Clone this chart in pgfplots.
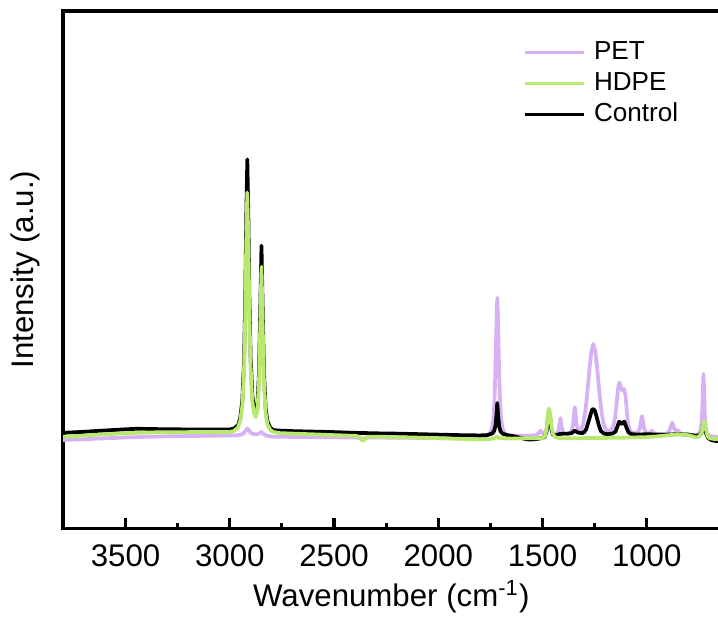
\documentclass[border=0pt]{standalone}
\usepackage{fontspec}
\setmainfont{Liberation Sans}
\usepackage{pgfplots}
\pgfplotsset{compat=1.18}
\usetikzlibrary{calc}

\definecolor{petc}{RGB}{214,178,245}
\definecolor{hdpec}{RGB}{185,232,110}

% spectra (wavenumber, intensity in a.u.)
\pgfplotstableread{
wn val
3800 88.0
3750 88.6
3700 88.8
3650 89.4
3600 89.8
3550 90.2
3500 90.6
3450 91.0
3400 91.3
3350 91.5
3300 91.8
3250 91.9
3200 92.1
3150 92.2
3100 92.4
3050 92.5
3000 92.6
2970 92.8
2950 93.2
2935 94.5
2925 97.0
2916 99.5
2908 97.5
2898 95.0
2880 93.8
2866 94.0
2856 95.0
2848 96.2
2840 94.5
2825 92.5
2800 91.5
2750 91.3
2700 91.2
2600 91.0
2500 90.8
2400 90.6
2375 90.0
2362 89.0
2350 90.2
2330 90.6
2200 90.4
2100 90.2
2000 90.0
1900 89.7
1800 89.5
1780 90.5
1767 92.0
1752 95.0
1742 100
1735 110
1730 128
1726 158
1723 185
1720 214
1717 230
1714 214
1711 185
1708 158
1704 128
1699 110
1692 100
1682 95.0
1667 93.0
1640 92.5
1600 92.5
1560 92.3
1530 93.0
1518 95.0
1510 97.5
1502 95.5
1492 94.0
1480 99.0
1472 110
1466 107
1458 98.0
1448 94.5
1436 94.0
1425 96.5
1419 103
1414 110
1409 103
1403 96.5
1392 94.0
1375 94.0
1362 96.0
1354 103
1349 114
1345 121
1341 114
1336 103
1328 98.5
1316 98.0
1306 103.4
1296 114.6
1286 133
1276 156
1266 176
1256 184
1246 176
1236 156
1226 133
1216 114.6
1206 103.4
1196 98.5
1185 97.0
1175 97.5
1162 101
1152 110
1144 126
1137 140
1131 145.5
1124 141
1117 137.5
1109 139
1102 133
1096 118
1090 105
1082 98.0
1070 95.5
1055 95.0
1042 96.0
1033 100
1028 107
1023 112
1018 107
1013 100
1004 95.5
990 95.0
980 96.0
976 97.5
971 96.0
962 94.5
930 94.0
905 94.5
892 97.0
884 102
878 105.5
872 102
866 98.5
858 97.5
851 98.0
845 96.0
835 94.5
800 93.5
775 93.0
760 93.5
748 95.0
740 100
735 112
731 135
728 154
725 140
722 115
718 101
712 95.0
700 92.5
680 91.5
650 91.0
}\pet

\pgfplotstableread{
wn val
3800 91.3
3750 92.0
3700 92.5
3650 93.3
3600 93.8
3550 94.4
3500 94.8
3450 95.3
3400 95.6
3350 95.8
3300 95.9
3200 96.0
3100 96.1
3000 96.2
2980 97.0
2960 101
2950 107
2940 122
2932 155
2926 210
2921 284
2916 335
2911 286
2906 214
2900 160
2892 127
2884 115
2876 111
2868 116
2860 145
2854 200
2848 261
2842 200
2836 145
2828 115
2820 104
2805 98.0
2790 96.0
2760 95.0
2700 94.5
2600 93.8
2500 93.0
2400 92.3
2380 91.5
2368 88.5
2360 87.3
2350 89.5
2335 91.5
2300 91.5
2200 91.0
2100 90.5
2000 90.0
1900 89.3
1800 88.7
1750 89.0
1725 90.5
1717 91.5
1708 90.0
1650 89.5
1600 89.8
1550 89.8
1500 90.0
1488 92.0
1480 100
1475 112
1470 119.5
1464 115
1458 103
1450 94.0
1440 91.0
1420 90.0
1400 89.8
1300 90.0
1200 90.2
1100 90.5
1000 91.0
950 91.8
900 92.8
850 93.8
820 93.5
790 92.5
770 91.0
755 91.0
742 93.0
735 97.0
730 102
726 106
723 107
719 104
714 97.0
708 92.0
700 90.0
680 89.2
650 88.8
}\hdpe

\pgfplotstableread{
wn val
3800 95.0
3780 95.5
3750 95.8
3700 96.3
3650 97.0
3600 97.6
3550 98.2
3500 98.8
3450 99.3
3400 99.2
3350 99.0
3300 98.8
3250 98.8
3200 98.6
3100 98.5
3000 98.6
2980 99.5
2960 103
2950 110
2940 127
2932 164
2926 226
2921 309
2916 368
2911 312
2906 230
2900 170
2892 133
2884 119
2876 115
2868 120
2860 154
2854 216
2848 282
2842 216
2836 155
2828 120
2820 107
2805 100
2790 98.0
2760 97.5
2700 97.0
2600 96.5
2500 96.0
2400 95.3
2300 94.8
2200 94.5
2100 94.0
2000 93.5
1900 93.0
1800 92.7
1767 93.0
1742 94.5
1732 97.0
1726 102
1721 113
1717 125
1713 113
1708 102
1702 97.0
1692 94.5
1670 93.0
1640 92.0
1600 90.0
1580 89.0
1560 88.5
1530 89.0
1505 90.0
1490 91.0
1480 97.0
1474 110
1470 116
1464 112
1458 100
1450 93.0
1440 92.5
1420 94.0
1400 94.5
1380 94.5
1360 95.0
1345 97.5
1330 95.5
1310 95.0
1300 96.0
1290 99.0
1280 106
1270 113
1262 118.5
1255 119
1248 117
1240 111
1230 103
1220 97.0
1205 94.5
1185 94.0
1165 94.5
1150 96.5
1140 102
1132 106.5
1120 104
1108 106.5
1098 101
1088 96.0
1075 94.0
1040 93.5
1000 94.0
950 93.5
900 93.5
850 94.0
800 93.5
770 92.5
750 92.5
738 95.0
732 99.0
728 103
724 104
720 100
714 94.0
705 90.0
690 88.0
670 87.2
650 87.0
}\control

\begin{document}
\begin{tikzpicture}
\begin{axis}[
    scale only axis,
    width=229.25pt, height=180.6pt,
    x dir=reverse,
    xmin=650, xmax=3800,
    ymin=0, ymax=516,
    xtick={1000,1500,...,3500},
    minor x tick num=1,
    ytick=\empty,
    xtick pos=lower,
    tick align=inside,
    major tick length=3.6pt,
    minor tick length=1.8pt,
    axis line style={line width=1.2pt},
    every tick/.style={black, line width=1.1pt},
    /pgf/number format/1000 sep={},
    /pgf/number format/assume math mode=true,
    tick label style={font=\fontsize{10.9}{13}\selectfont},
    xticklabel style={inner sep=0pt, anchor=north, yshift=-5.6pt},
    label style={font=\fontsize{10.9}{13}\selectfont},
    xlabel={Wavenumber (cm\textsuperscript{-1})},
    ylabel={Intensity (a.u.)},
    xlabel style={at={(axis description cs:0.5,0)}, anchor=north, inner sep=0pt, yshift=-18pt},
    ylabel style={at={(axis description cs:-0.045,0.5)}, anchor=base, inner sep=0pt},
    legend cell align=left,
    legend image code/.code={\draw[#1, line width=1.2pt] (0pt,0pt) -- (20.7pt,0pt);},
    legend style={draw=none, fill=none,
        at={(axis description cs:0.687,0.957)}, anchor=north west,
        font=\fontsize{9.1}{11}\selectfont,
        nodes={inner sep=0pt, text height=7pt, text depth=2pt},
        row sep=1.8pt,
        /tikz/every odd column/.append style={column sep=2.8pt}},
    every axis plot/.append style={line width=1.3pt, line join=round},
]
\addplot[petc, forget plot] table[x=wn, y=val] {\pet};
\addplot[black, forget plot] table[x=wn, y=val] {\control};
\addplot[hdpec, forget plot] table[x=wn, y=val] {\hdpe};

\addlegendimage{petc}
\addlegendentry{PET}
\addlegendimage{hdpec}
\addlegendentry{HDPE}
\addlegendimage{black}
\addlegendentry{Control}
\end{axis}
\pgfresetboundingbox
\path ($(current axis.south west)+(-22pt,-32.9pt)$) rectangle ($(current axis.north east)+(-0.6pt,3.85pt)$);
\end{tikzpicture}
\end{document}
